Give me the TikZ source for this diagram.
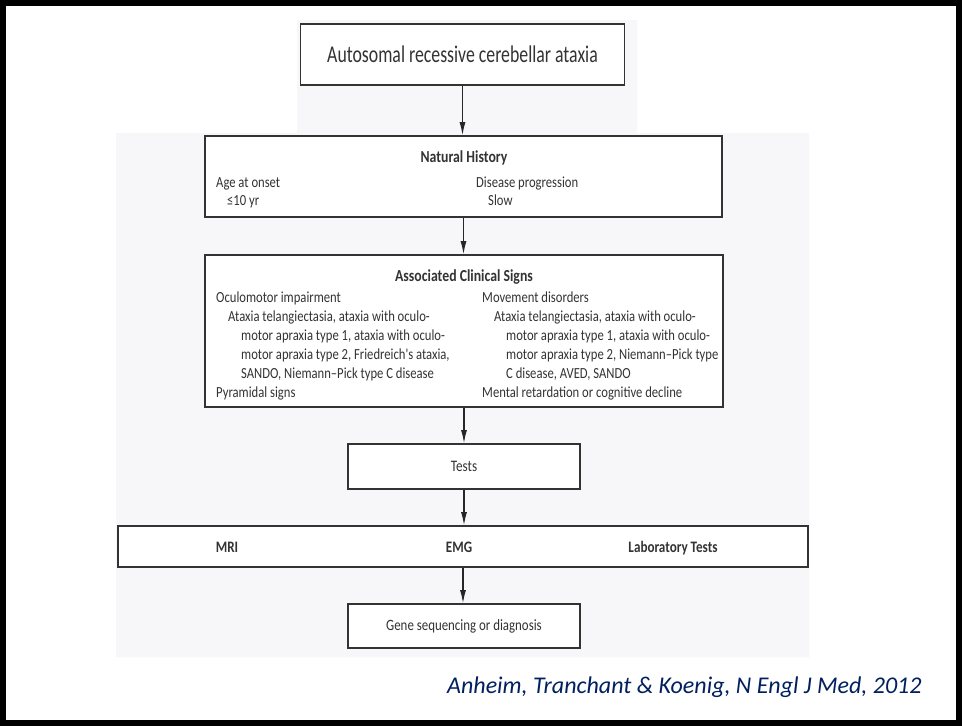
\documentclass[tikz,border=0pt]{standalone}
\usepackage{fontspec}
\setmainfont{Carlito}
\newfontfamily\nejm[FakeStretch=0.82]{Carlito}
\newfontfamily\nejmtitle[FakeStretch=0.74]{Carlito}
\usetikzlibrary{arrows.meta}

\definecolor{panelgray}{RGB}{247,247,249}
\definecolor{inkgray}{RGB}{51,51,51}
\definecolor{citeblue}{RGB}{0,32,96}

\tikzset{
  flowbox/.style={draw=inkgray, line width=1.6pt, fill=white, inner sep=0pt, text=inkgray},
  flowarrow/.style={-{Latex[length=13pt,width=6pt]}, line width=1.2pt, black!85},
  txt/.style={inner sep=0pt, anchor=base west, text=inkgray, font=\nejm\fontsize{15.4}{18}\selectfont},
  headtxt/.style={txt, anchor=base, font=\nejm\bfseries\fontsize{16.8}{19}\selectfont},
  rowtxt/.style={txt, anchor=base, font=\nejm\bfseries\fontsize{16}{19}\selectfont},
}

\begin{document}
\begin{tikzpicture}[x=1pt,y=-1pt]
		\useasboundingbox (0,0) rectangle (962,726);
		\fill[white] (0,0) rectangle (962,726);
		\fill[panelgray] (297,20) -- (637,20) -- (637,133) -- (809,133) -- (809,657)
			-- (116,657) -- (116,133) -- (297,133) -- cycle;
		\draw[line width=6pt] (3,3) rectangle (959,723);

		% boxes
		\node[flowbox, minimum width=324pt, minimum height=61pt,
			font=\nejmtitle\fontsize{24}{28}\selectfont] (ataxia) at (462.5,54.5)
			{Autosomal recessive cerebellar ataxia};
		\node[flowbox, minimum width=517pt, minimum height=81pt] (history) at (463.5,176.5) {};
		\node[flowbox, minimum width=518pt, minimum height=152pt] (signs) at (464,331) {};
		\node[flowbox, minimum width=232pt, minimum height=45pt,
			font=\nejm\fontsize{16}{19}\selectfont] (tests) at (464,466.5) {Tests};
		\node[flowbox, minimum width=690pt, minimum height=41pt] (exams) at (463,546.5) {};
		\node[flowbox, minimum width=232pt, minimum height=44pt,
			font=\nejm\fontsize{15.7}{18}\selectfont] (gene) at (464,626) {Gene sequencing or diagnosis};

		% natural history
		\node[headtxt] (historyhead) at (464,162) {Natural History};
		\node[txt] (onset) at (216,187) {Age at onset};
		\node[txt] (onsetval) at (227,205) {≤10 yr};
		\node[txt] (progress) at (476,187) {Disease progression};
		\node[txt] (progressval) at (488,205) {Slow};

		% associated clinical signs
		\node[headtxt] (signshead) at (464,281) {Associated Clinical Signs};
		\node[txt] (oculo) at (216,302) {Oculomotor impairment};
		\node[txt] (oculoa) at (228,321) {Ataxia telangiectasia, ataxia with oculo-};
		\node[txt] (oculob) at (241,340) {motor apraxia type 1, ataxia with oculo-};
		\node[txt] (oculoc) at (241,359) {motor apraxia type 2, Friedreich's ataxia,};
		\node[txt] (oculod) at (241,378) {SANDO, Niemann–Pick type C disease};
		\node[txt] (pyramid) at (216,397) {Pyramidal signs};
		\node[txt] (movement) at (482,302) {Movement disorders};
		\node[txt] (movea) at (494,321) {Ataxia telangiectasia, ataxia with oculo-};
		\node[txt] (moveb) at (506,340) {motor apraxia type 1, ataxia with oculo-};
		\node[txt] (movec) at (506,359) {motor apraxia type 2, Niemann–Pick type};
		\node[txt] (moved) at (506,378) {C disease, AVED, SANDO};
		\node[txt] (mental) at (482,397) {Mental retardation or cognitive decline};

		% tests row
		\node[rowtxt] (mri) at (227,552) {MRI};
		\node[rowtxt] (emg) at (459,552) {EMG};
		\node[rowtxt] (lab) at (673,552) {Laboratory Tests};

		% arrows
		\draw[flowarrow] (ataxia.south) -- (ataxia.south |- history.north);
		\draw[flowarrow] (history.south) -- (history.south |- signs.north);
		\draw[flowarrow] (signs.south) -- (signs.south |- tests.north);
		\draw[flowarrow] (tests.south) -- (tests.south |- exams.north);
		\draw[flowarrow] (exams.south) -- (exams.south |- gene.north);

		\node[anchor=base west, inner sep=0pt, text=citeblue,
			font=\itshape\fontsize{24}{28}\selectfont] (cite) at (447,693)
			{Anheim, Tranchant \& Koenig, N Engl J Med, 2012};
\end{tikzpicture}
\end{document}
